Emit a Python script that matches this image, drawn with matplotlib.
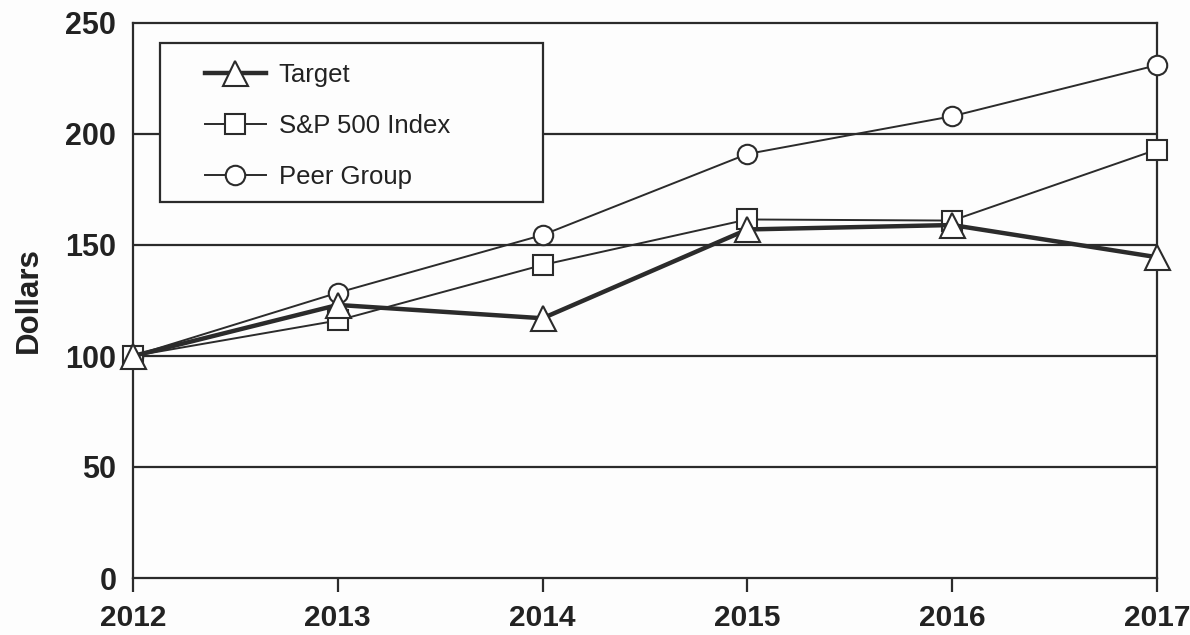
import matplotlib
matplotlib.use("Agg")
import matplotlib.pyplot as plt
from matplotlib.patches import Rectangle

years = [2012, 2013, 2014, 2015, 2016, 2017]
target = [100, 123, 117, 157, 159, 144.5]
sp500 = [100, 116, 141, 161.5, 161, 193]
peer = [100, 128.5, 154.5, 191, 208, 231]
yticks = [0, 50, 100, 150, 200, 250]

plt.rcParams['font.family'] = ['Liberation Sans', 'DejaVu Sans']
dark = '#2b2b2b'
bg = '#fdfdfd'

W, H = 1190, 635
fig = plt.figure(figsize=(W / 100, H / 100), dpi=100)
ax_l, ax_r, ax_t, ax_b = 133, 1157, 23, 578
ax = fig.add_axes([ax_l / W, (H - ax_b) / H, (ax_r - ax_l) / W, (ax_b - ax_t) / H])
fig.patch.set_facecolor(bg)
ax.set_facecolor(bg)

def ax_x(px):
    return (px - ax_l) / (ax_r - ax_l)

def ax_y(py):
    return (ax_b - py) / (ax_b - ax_t)

for y in yticks[1:-1]:
    ax.axhline(y, color=dark, lw=1.6, zorder=1)

lp, = ax.plot(years, peer, color=dark, lw=1.4, marker='o', ms=14, mfc='white',
              mec=dark, mew=1.5, label='Peer Group', zorder=3)
ls, = ax.plot(years, sp500, color=dark, lw=1.4, marker='s', ms=14, mfc='white',
              mec=dark, mew=1.5, label='S&P 500 Index', zorder=4)
lt, = ax.plot(years, target, color=dark, lw=3.2, marker='^', ms=18, mfc='white',
              mec=dark, mew=1.5, label='Target', zorder=5)
for l in (lp, ls, lt):
    l.set_clip_on(False)

ax.set_xlim(2012, 2017)
ax.set_ylim(0, 250)
ax.set_xticks(years)
ax.set_xticklabels([str(y) for y in years])
ax.set_yticks(yticks)
ax.set_yticklabels([str(y) for y in yticks])
for s in ax.spines.values():
    s.set_color(dark)
    s.set_linewidth(1.6)
ax.tick_params(axis='x', length=10, width=1.6, color=dark, pad=9, labelsize=21.5, labelcolor='#222222')
ax.tick_params(axis='y', length=0, pad=12, labelsize=22, labelcolor='#222222')
for t in ax.get_xticklabels() + ax.get_yticklabels():
    t.set_fontweight('bold')
ax.set_ylabel('Dollars', fontsize=22.5, fontweight='bold', color='#222222')
ax.yaxis.set_label_coords(ax_x(44), 0.5)

# legend frame drawn separately
frame = Rectangle((ax_x(160), ax_y(202)), ax_x(543) - ax_x(160), ax_y(43) - ax_y(202),
                  transform=ax.transAxes, facecolor=bg, edgecolor=dark, lw=1.6, zorder=6)
ax.add_patch(frame)

leg = ax.legend(handles=[lt, ls, lp], loc='upper left',
                bbox_to_anchor=(ax_x(205), ax_y(63)),
                fontsize=18.5, frameon=False,
                borderpad=0, labelspacing=1.06, handlelength=2.37,
                handletextpad=0.5, borderaxespad=0)
leg.set_zorder(7)
for t in leg.get_texts():
    t.set_color('#222222')

fig.savefig('out.png', dpi=100, facecolor=fig.get_facecolor())
